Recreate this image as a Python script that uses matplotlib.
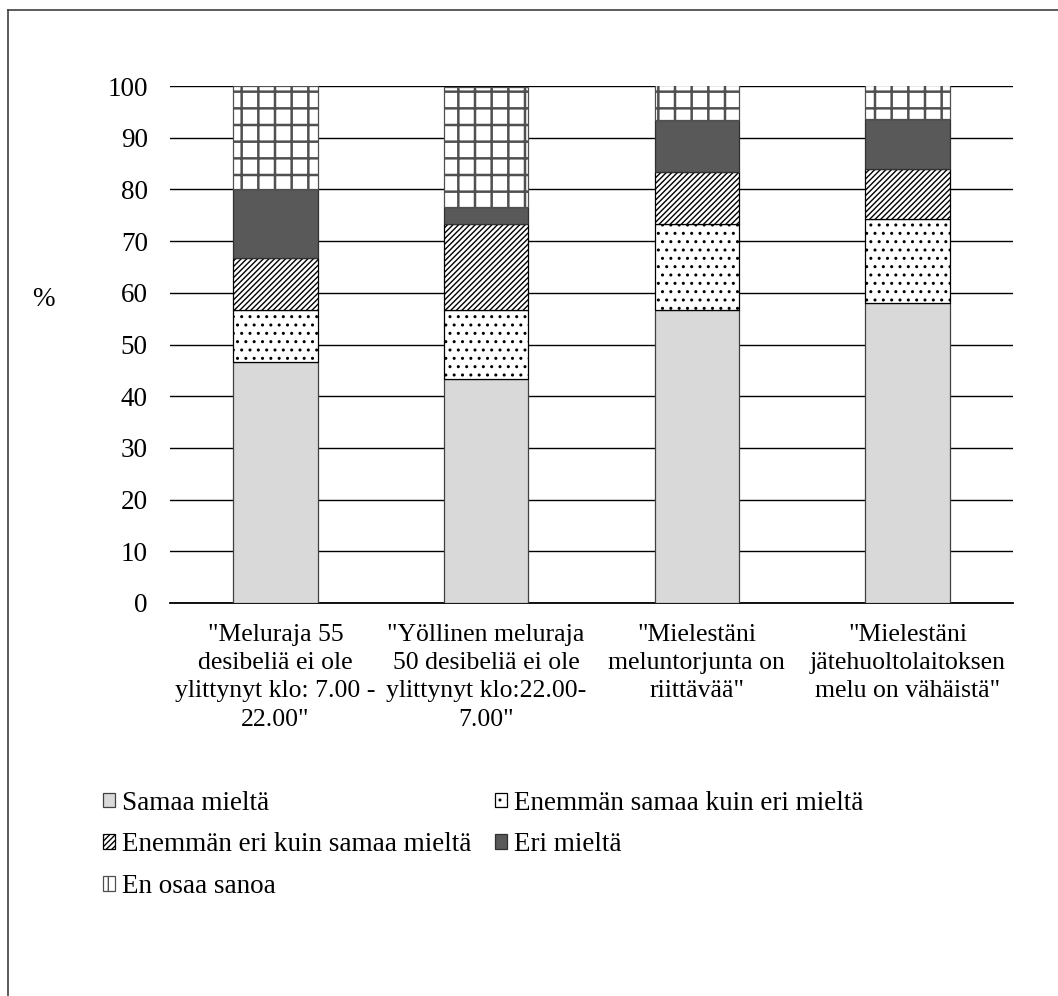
import numpy as np
import matplotlib
matplotlib.use("Agg")
import matplotlib.pyplot as plt
from matplotlib.lines import Line2D

plt.rcParams['font.family'] = ['Liberation Serif', 'DejaVu Serif']
plt.rcParams['font.size'] = 19.5
plt.rcParams['hatch.linewidth'] = 1.0

# survey statements (x categories)
categories = [
    '"Meluraja 55\ndesibeliä ei ole\nylittynyt klo: 7.00 -\n22.00"',
    '"Yöllinen meluraja\n50 desibeliä ei ole\nylittynyt klo:22.00-\n7.00"',
    '"Mielestäni\nmeluntorjunta on\nriittävää"',
    '"Mielestäni\njätehuoltolaitoksen\nmelu on vähäistä"',
]

# answer shares, %
samaa = [46.7, 43.3, 56.7, 58.1]
enemman_samaa = [10.0, 13.3, 16.7, 16.1]
enemman_eri = [10.0, 16.7, 10.0, 9.7]
eri = [13.3, 3.3, 10.0, 9.7]
en_osaa = [20.0, 23.3, 6.7, 6.5]

series_names = ['Samaa mieltä', 'Enemmän samaa kuin eri mieltä',
                'Enemmän eri kuin samaa mieltä', 'Eri mieltä', 'En osaa sanoa']
yticks = [0, 10, 20, 30, 40, 50, 60, 70, 80, 90, 100]

styles = [
    dict(facecolor='#d9d9d9', edgecolor='#404040', hatch=None),
    dict(facecolor='white', edgecolor='black', hatch='..'),
    dict(facecolor='white', edgecolor='black', hatch='//////'),
    dict(facecolor='#595959', edgecolor='#303030', hatch=None),
    dict(facecolor='white', edgecolor='#505050', hatch='+'),
]
hatch_lw = [1.0, 1.0, 1.0, 1.0, 1.8]

fig = plt.figure(figsize=(10.58, 9.96), dpi=100)
ax = fig.add_axes([170 / 1058, 1 - 603 / 996, (1013 - 170) / 1058, (603 - 86) / 996])

x = np.arange(len(categories))
bottom = np.zeros(len(categories))
handles = []
for vals, name, st, hlw in zip([samaa, enemman_samaa, enemman_eri, eri, en_osaa],
                               series_names, styles, hatch_lw):
    with plt.rc_context({'hatch.linewidth': hlw}):
        b = ax.bar(x, vals, width=0.4, bottom=bottom, label=name, linewidth=0.9, zorder=3, **st)
    for p in b:
        if hasattr(p, 'set_hatch_linewidth'):
            p.set_hatch_linewidth(hlw)
    handles.append(b)
    bottom += np.array(vals)

ax.set_xlim(-0.5, len(categories) - 0.5)
ax.set_ylim(0, 100)
ax.set_yticks(yticks)
ax.yaxis.grid(True, color='black', linewidth=1.0, zorder=0)
ax.set_axisbelow(True)
ax.tick_params(axis='y', length=0, pad=16)
ax.set_xticks(x)
ax.set_xticklabels(categories, fontsize=18.5, linespacing=1.37)
ax.tick_params(axis='x', length=0, pad=15)
for s in ['top', 'right', 'left']:
    ax.spines[s].set_visible(False)
ax.spines['bottom'].set_linewidth(1.3)

fig.text(43 / 1058, 1 - 300 / 996, '%', ha='center', va='center')

# legend in row-major order across two columns
order = [0, 2, 4, 1, 3]
leg = fig.legend([handles[i] for i in order], [series_names[i] for i in order],
                 loc='upper left', bbox_to_anchor=(89 / 1058, 1 - 777 / 996),
                 ncol=2, frameon=False, handlelength=0.45, handleheight=0.45,
                 handletextpad=0.25, columnspacing=0.9, labelspacing=0.62, borderpad=0)

# outer frame lines
fig.add_artist(Line2D([8 / 1058, 8 / 1058], [0, 1 - 10 / 996], transform=fig.transFigure,
                      color='#404040', linewidth=1.2))
fig.add_artist(Line2D([8 / 1058, 1], [1 - 10 / 996, 1 - 10 / 996], transform=fig.transFigure,
                      color='#404040', linewidth=1.2))

fig.savefig('out.png', dpi=100, facecolor='white')
